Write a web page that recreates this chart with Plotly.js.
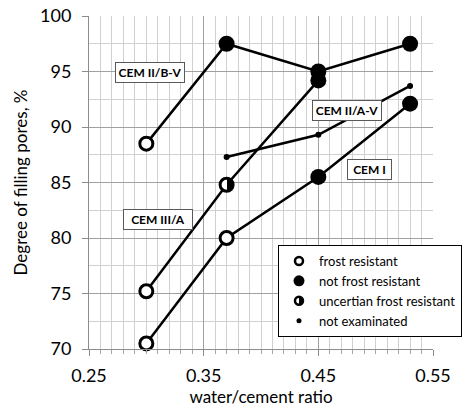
<!DOCTYPE html>
<html>
<head>
<meta charset="utf-8">
<script src="https://cdn.plot.ly/plotly-3.0.1.min.js"></script>
<style>html,body{margin:0;padding:0;background:#fff;}#chart{width:463px;height:407px;}</style>
</head>
<body>
<div id="chart"></div>
<script>
// water/cement ratio (x)
const wcRatio = [0.30, 0.37, 0.45, 0.53];
// Degree of filling pores, % for each cement
const cemIIBV  = [88.5, 97.5, 95.0, 97.5];
const cemIIIA  = [75.2, 84.8, 94.2, null];
const cemI     = [70.5, 80.0, 85.5, 92.1];
const cemIIAV  = [null, 87.3, 89.3, 93.7];
// frost resistance status per point: F = frost resistant, N = not frost resistant, U = uncertain, X = not examined
const statusIIBV = ['F', 'N', 'N', 'N'];
const statusIIIA = ['F', 'U', 'N', null];
const statusI    = ['F', 'F', 'N', 'N'];
const statusIIAV = [null, 'X', 'X', 'X'];
const seriesNames = ['CEM II/B-V', 'CEM III/A', 'CEM I', 'CEM II/A-V'];
const legendNames = ['frost resistant', 'not frost resistant', 'uncertian frost resistant', 'not examinated'];
const xTickLabels = ['0.25', '0.35', '0.45', '0.55'];
const xTickVals = [0.25, 0.35, 0.45, 0.55];

const series = [cemIIBV, cemIIIA, cemI, cemIIAV];
const statuses = [statusIIBV, statusIIIA, statusI, statusIIAV];

const traces = [];
// connecting lines
series.forEach((ys, i) => {
  traces.push({
    type: 'scatter', mode: 'lines', name: seriesNames[i],
    x: wcRatio, y: ys, showlegend: false, hoverinfo: 'skip',
    line: {color: '#000', width: 2.5}
  });
});

const styles = {
  N: {symbol: 'circle', color: '#000', size: 16, line: {color: '#000', width: 0}},
  F: {symbol: 'circle', color: '#fff', size: 13, line: {color: '#000', width: 3}},
  U: {symbol: 'circle', color: '#fff', size: 13, line: {color: '#000', width: 3}, gradient: {type: 'horizontal', color: '#000'}},
  X: {symbol: 'circle', color: '#000', size: 6, line: {color: '#000', width: 0}}
};
const legendStyles = {
  F: {symbol: 'circle', color: '#fff', size: 8, line: {color: '#000', width: 2.5}},
  N: {symbol: 'circle', color: '#000', size: 11, line: {color: '#000', width: 0}},
  U: {symbol: 'circle', color: '#fff', size: 8, line: {color: '#000', width: 2.5}, gradient: {type: 'horizontal', color: '#000'}},
  X: {symbol: 'circle', color: '#000', size: 5, line: {color: '#000', width: 0}}
};
const codes = ['F', 'N', 'U', 'X'];

// data markers grouped by status
['N', 'F', 'U', 'X'].forEach(code => {
  const xs = [], ys = [];
  series.forEach((vals, i) => {
    vals.forEach((v, j) => {
      if (v !== null && statuses[i][j] === code) { xs.push(wcRatio[j]); ys.push(v); }
    });
  });
  traces.push({
    type: 'scatter', mode: 'markers', x: xs, y: ys, showlegend: false,
    marker: styles[code], cliponaxis: false
  });
});

// legend entries
codes.forEach((code, k) => {
  traces.push({
    type: 'scatter', mode: 'markers', x: [null], y: [null], name: legendNames[k],
    showlegend: true, marker: legendStyles[code]
  });
});

const boxFont = {family: 'Lato, sans-serif', size: 12, color: '#000', weight: 'bold'};
function box(text, x, y, w) {
  return {text: '<b>' + text + '</b>', x: x, y: y, xref: 'x', yref: 'y', showarrow: false,
    font: boxFont, bgcolor: '#fff', bordercolor: '#595959', borderwidth: 1, borderpad: 2,
    width: w, height: 15, align: 'center'};
}

const layout = {
  width: 463, height: 407,
  margin: {l: 89, r: 30, t: 16, b: 58, autoexpand: false},
  paper_bgcolor: '#fff', plot_bgcolor: '#fff',
  font: {family: 'Lato, sans-serif', color: '#000'},
  xaxis: {
    range: [0.25, 0.55], tickvals: xTickVals, ticktext: xTickLabels,
    ticks: 'outside', ticklen: 6, tickcolor: '#8c8c8c',
    showline: true, linecolor: '#8c8c8c', linewidth: 1,
    showgrid: true, gridcolor: '#a0a0a0', zeroline: false,
    tickfont: {size: 18, color: '#000'}, ticklabelstandoff: 4,
    title: {text: 'water/cement ratio', font: {size: 17, color: '#000'}, standoff: 11},
    minor: {dtick: 0.01, tick0: 0.25, ticks: 'outside', ticklen: 4, tickcolor: '#a6a6a6', showgrid: true, gridcolor: '#d0d0d0'}
  },
  yaxis: {
    range: [70, 100], dtick: 5, tick0: 70,
    ticks: 'outside', ticklen: 6, tickcolor: '#8c8c8c',
    showline: true, linecolor: '#8c8c8c', linewidth: 1,
    showgrid: true, gridcolor: '#a0a0a0', zeroline: false,
    tickfont: {size: 18, color: '#000'}, ticklabelstandoff: 7,
    title: {text: 'Degree of filling pores, %', font: {size: 17, color: '#000'}, standoff: 8},
    minor: {dtick: 2.5, tick0: 70, showgrid: true, gridcolor: '#d0d0d0'}
  },
  showlegend: true,
  legend: {
    x: 1.0843, xanchor: 'right', y: 0.3123, yanchor: 'top',
    bgcolor: '#fff', bordercolor: '#000', borderwidth: 1,
    font: {size: 13, color: '#000'}, traceorder: 'normal'
  },
  annotations: [
    box('CEM II/B-V', 0.303, 94.95, 64),
    box('CEM II/A-V', 0.475, 91.53, 64),
    box('CEM I', 0.495, 86.13, 39),
    box('CEM III/A', 0.310, 81.71, 64)
  ]
};

function hardenGradients() {
  document.querySelectorAll('linearGradient').forEach(g => {
    while (g.firstChild) g.removeChild(g.firstChild);
    g.setAttribute('x1', '0'); g.setAttribute('y1', '0');
    g.setAttribute('x2', '1'); g.setAttribute('y2', '0');
    [[0, '#fff'], [0.5, '#fff'], [0.5, '#000'], [1, '#000']].forEach(s => {
      const st = document.createElementNS('http://www.w3.org/2000/svg', 'stop');
      st.setAttribute('offset', s[0]);
      st.setAttribute('stop-color', s[1]);
      g.appendChild(st);
    });
  });
}

Plotly.newPlot('chart', traces, layout, {displayModeBar: false, staticPlot: true}).then(hardenGradients);
</script>
</body>
</html>
